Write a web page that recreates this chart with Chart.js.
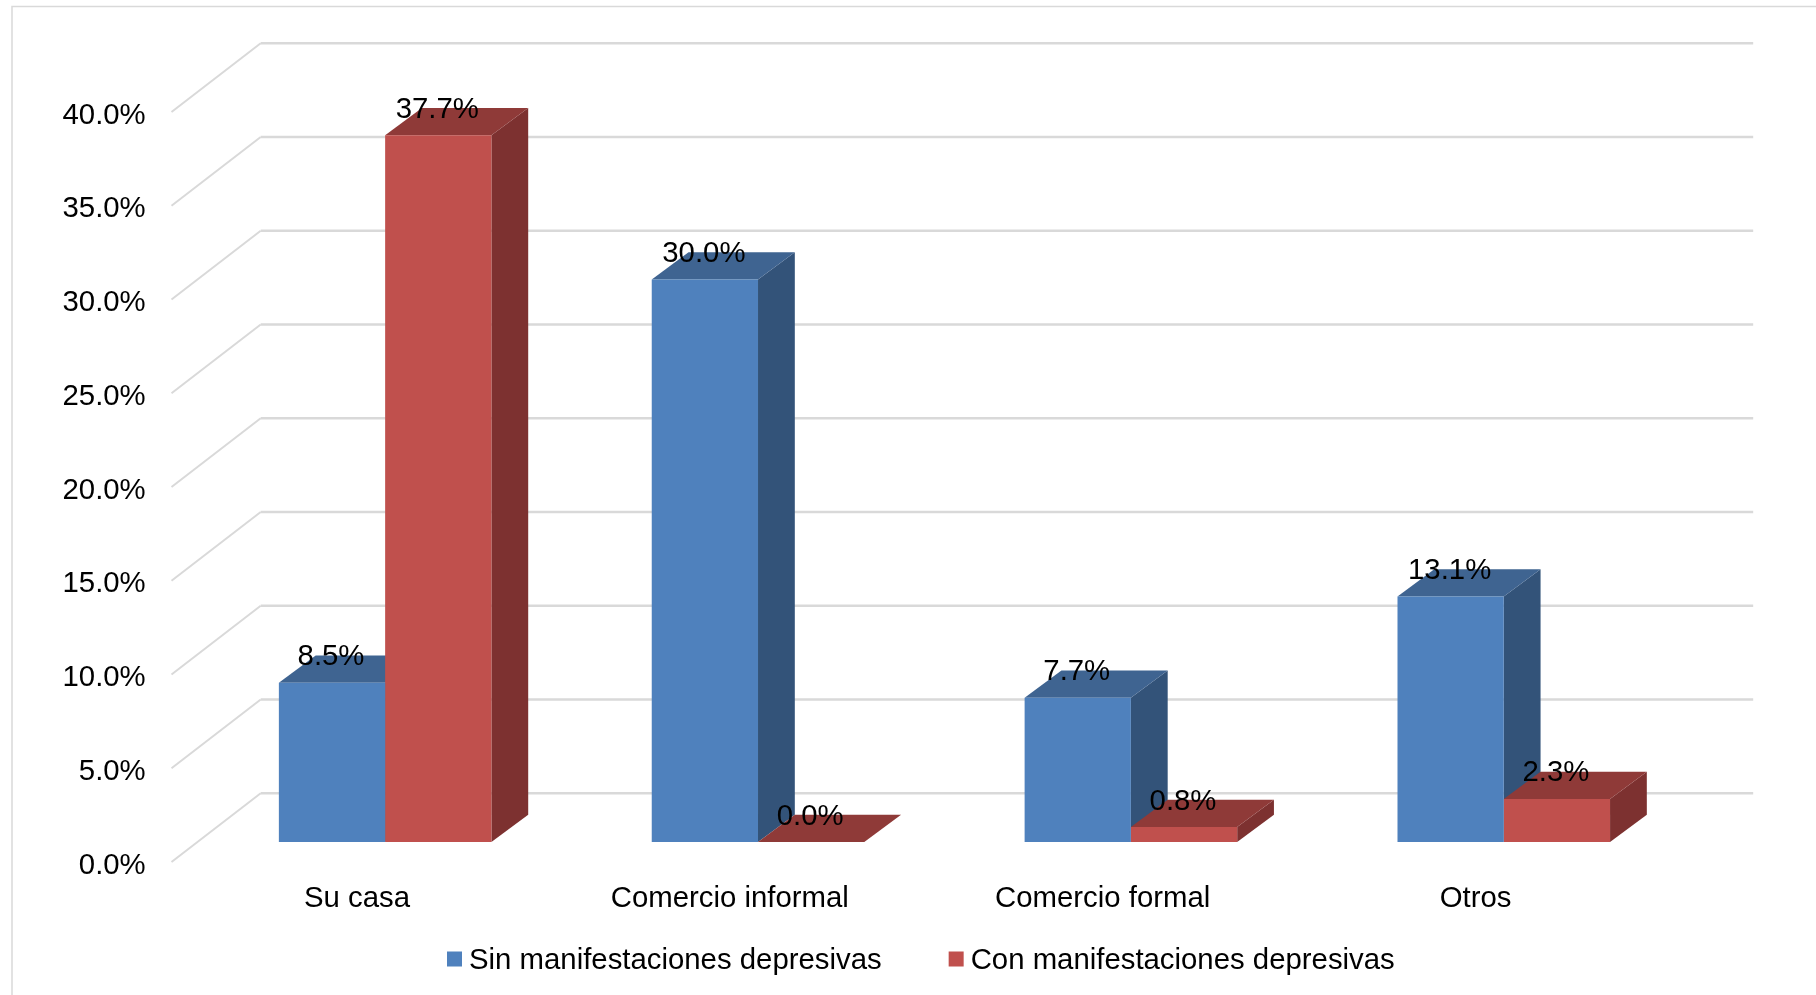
<!DOCTYPE html>
<html lang="es">
<head>
<meta charset="utf-8">
<title>Lugar de trabajo</title>
<style>
    html, body { margin: 0; padding: 0; background: #fff; overflow: hidden; }
    #wrap { position: relative; width: 1816px; height: 995px; }
</style>
</head>
<body>
<div id="wrap"><canvas id="myChart" width="1816" height="995"></canvas></div>
<script src="https://cdn.jsdelivr.net/npm/chart.js@4"></script>
<script>
"use strict";

const categories = ['Su casa', 'Comercio informal', 'Comercio formal', 'Otros'];
const sinManifestaciones = [8.5, 30.0, 7.7, 13.1];
const conManifestaciones = [37.7, 0.0, 0.8, 2.3];
const seriesNames = ['Sin manifestaciones depresivas', 'Con manifestaciones depresivas'];
const yTicks = [0, 5, 10, 15, 20, 25, 30, 35, 40];

const FONT = 'Liberation Sans, Arial, sans-serif';
const FONT_SIZE = 29.35;
const GRID = '#d9d9d9';

// offsets of the pseudo 3D box
const depth = { x: 36.8, y: 27.2 };    // bar depth
const wall = { x: 62, y: 48.7 };       // bar plane to back wall
const floor = { x: 27.2, y: 20 };      // bar plane to front of the floor

const faces = [
    { top: '#3f6491', side: '#335379' },
    { top: '#8f3a38', side: '#7d3130' }
];

function poly(ctx, pts, color) {
    ctx.fillStyle = color;
    ctx.beginPath();
    pts.forEach((p, i) => i ? ctx.lineTo(p[0], p[1]) : ctx.moveTo(p[0], p[1]));
    ctx.closePath();
    ctx.fill();
}

const box3d = {
    id: 'box3d',
    beforeDraw(chart) {
        const ctx = chart.ctx;
        // outer frame, open at the bottom and right
        ctx.save();
        ctx.strokeStyle = GRID;
        ctx.lineWidth = 1.5;
        ctx.beginPath();
        ctx.moveTo(12, 995);
        ctx.lineTo(12, 6.5);
        ctx.lineTo(1816, 6.5);
        ctx.stroke();
        ctx.restore();
    },
    beforeDatasetsDraw(chart) {
        const ctx = chart.ctx;
        const area = chart.chartArea;
        const y = chart.scales.y;
        ctx.save();
        ctx.strokeStyle = GRID;
        ctx.lineCap = 'butt';
        yTicks.forEach(v => {
            const py = y.getPixelForValue(v);
            ctx.lineWidth = 2;
            ctx.beginPath();
            ctx.moveTo(area.left - floor.x, py + floor.y);
            ctx.lineTo(area.left + wall.x, py - wall.y);
            ctx.stroke();
            ctx.lineWidth = 2.5;
            ctx.beginPath();
            ctx.moveTo(area.left + wall.x, py - wall.y);
            ctx.lineTo(area.right + wall.x + 1, py - wall.y);
            ctx.stroke();
        });
        // top and side faces; the front faces are the library's own bars
        chart.data.datasets.forEach((ds, i) => {
            chart.getDatasetMeta(i).data.forEach(bar => {
                const l = bar.x - bar.width / 2;
                const r = bar.x + bar.width / 2;
                const t = bar.y;
                const b = bar.base;
                poly(ctx, [[r, t], [r + depth.x, t - depth.y], [r + depth.x, b - depth.y], [r, b]], faces[i].side);
                poly(ctx, [[l, t], [l + depth.x, t - depth.y], [r + depth.x, t - depth.y], [r, t]], faces[i].top);
            });
        });
        ctx.restore();
    },
    afterDatasetsDraw(chart) {
        const ctx = chart.ctx;
        ctx.save();
        ctx.fillStyle = '#000';
        ctx.font = FONT_SIZE + 'px ' + FONT;
        ctx.textAlign = 'center';
        ctx.textBaseline = 'middle';
        chart.data.datasets.forEach((ds, i) => {
            chart.getDatasetMeta(i).data.forEach((bar, j) => {
                ctx.fillText(ds.data[j].toFixed(1) + '%', bar.x - 1, bar.y - 25.5);
            });
        });

        // legend row under the category labels
        let x = 447;
        ctx.textAlign = 'left';
        chart.data.datasets.forEach(ds => {
            ctx.fillStyle = ds.backgroundColor;
            ctx.fillRect(x, 951.5, 15, 15);
            ctx.fillStyle = '#000';
            ctx.fillText(ds.label, x + 22, 961);
            x += 22 + ctx.measureText(ds.label).width + 67;
        });
        ctx.restore();
    }
};

const ctx = document.getElementById('myChart');
const myChart = new Chart(ctx, {
    type: 'bar',
    data: {
        labels: categories,
        datasets: [
            { label: seriesNames[0], data: sinManifestaciones, backgroundColor: '#4f81bd', categoryPercentage: 0.57, barPercentage: 1 },
            { label: seriesNames[1], data: conManifestaciones, backgroundColor: '#c0504d', categoryPercentage: 0.57, barPercentage: 1 }
        ]
    },
    options: {
        responsive: false,
        animation: false,
        layout: { padding: { left: 30, right: 125.8, top: 92, bottom: 0 } },
        plugins: {
            tooltip: { enabled: false },
            title: { display: false },
            legend: { display: false }
        },
        scales: {
            x: {
                grid: { display: false, drawTicks: false },
                border: { display: false },
                ticks: {
                    color: '#000',
                    font: { family: FONT, size: FONT_SIZE },
                    padding: 39,
                    labelOffset: -floor.x - 1,
                    maxRotation: 0,
                    autoSkip: false
                },
                afterFit(scale) { scale.height = 153; }
            },
            y: {
                min: 0,
                max: 40,
                grid: { display: false, drawTicks: false },
                border: { display: false },
                ticks: {
                    stepSize: 5,
                    color: '#000',
                    font: { family: FONT, size: FONT_SIZE },
                    padding: 53,
                    labelOffset: floor.y + 3.5,
                    callback: v => v.toFixed(1) + '%'
                },
                afterFit(scale) { scale.width = 168.7; }
            }
        }
    },
    plugins: [box3d]
});
</script>
</body>
</html>
